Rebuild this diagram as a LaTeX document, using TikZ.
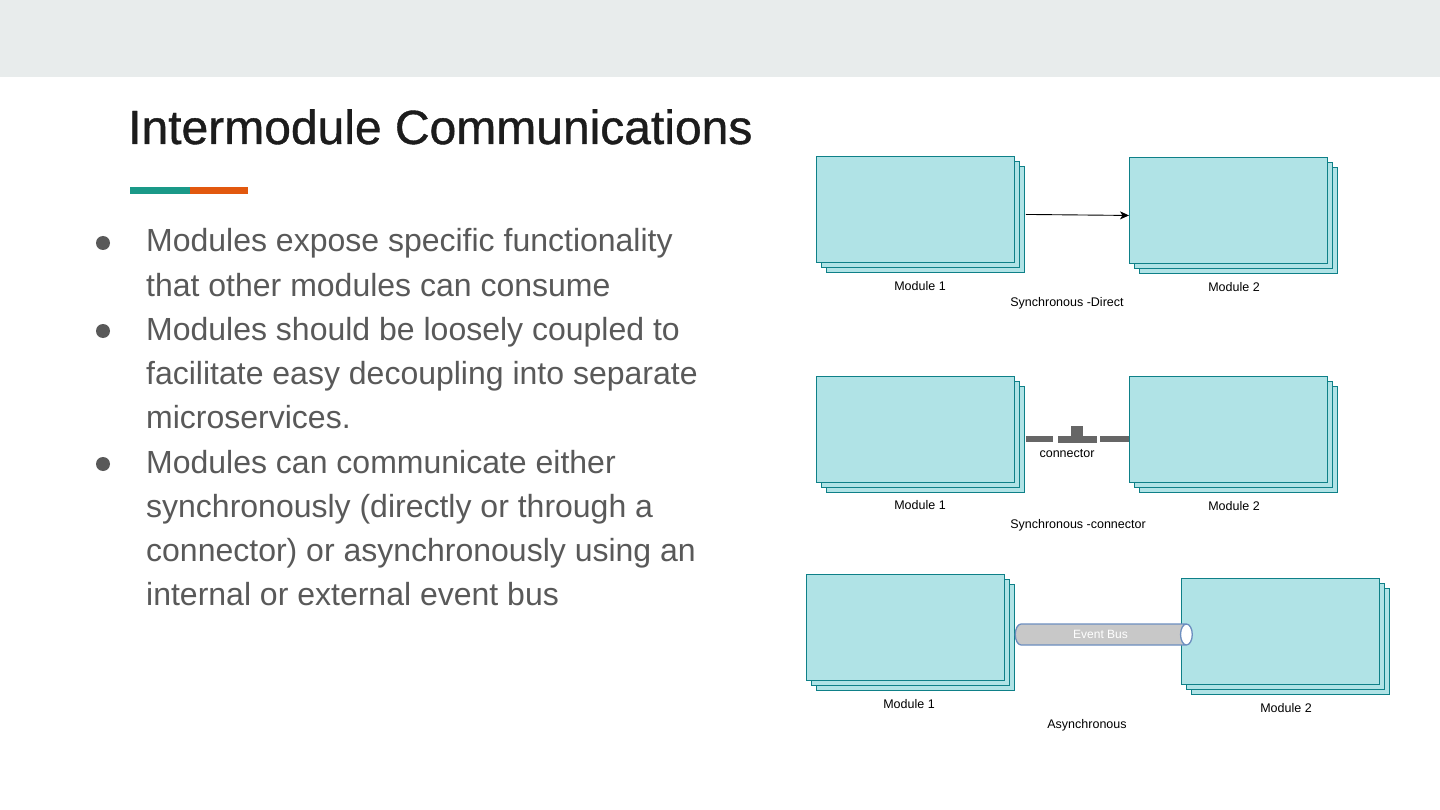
\documentclass[tikz,border=0pt]{standalone}
\usepackage{fontspec}
\setmainfont{Liberation Sans}
\newfontfamily\titlefont[FakeBold=0.8]{Liberation Sans}
\usepackage{tikz}
\usetikzlibrary{arrows.meta,shadows,shapes.geometric}
\definecolor{band}{HTML}{E8ECEC}
\definecolor{titlec}{HTML}{1C1C1C}
\definecolor{textc}{HTML}{595959}
\definecolor{teal}{HTML}{1A9988}
\definecolor{orange}{HTML}{E2580E}
\definecolor{modfill}{HTML}{B0E3E6}
\definecolor{modline}{HTML}{0E8088}
\definecolor{busfill}{HTML}{C8C8C8}
\definecolor{busline}{HTML}{6C8EBF}
\definecolor{connc}{HTML}{666666}

\begin{document}
\begin{tikzpicture}[x=1pt,y=-1pt,
    module/.style={draw=modline, fill=modfill, line width=0.9pt, anchor=north west,
        minimum width=198pt, minimum height=106pt, inner sep=0pt,
        copy shadow={shadow xshift=10pt, shadow yshift=-10pt},
        copy shadow={shadow xshift=5pt, shadow yshift=-5pt}},
    lbl/.style={font=\fontsize{12.5}{14}\selectfont, inner sep=0pt},
    bulletdot/.style={circle, fill=textc, minimum size=14pt, inner sep=0pt},
    bullettext/.style={anchor=base west, align=left, text=textc, inner sep=0pt,
        font=\fontsize{32}{44.2}\selectfont}]
    \useasboundingbox (0,0) rectangle (1440,810);
    \fill[white] (0,0) rectangle (1440,810);
    \fill[band] (0,0) rectangle (1440,77);
    % title
    \node[anchor=base west, inner sep=0pt, text=titlec, font=\titlefont\fontsize{48}{56}\selectfont] (title) at (128,144) {Intermodule Communications};
    \fill[teal] (130,187) rectangle (190,194);
    \fill[orange] (190,187) rectangle (248,194);
    % bullets (anchored at the baseline of their last line)
    \node[bulletdot] (b1) at (103,243) {};
    \node[bullettext] (t1) at (146,296.2) {Modules expose specific functionality\\that other modules can consume};
    \node[bulletdot] (b2) at (103,331) {};
    \node[bullettext] (t2) at (146,428.4) {Modules should be loosely coupled to\\facilitate easy decoupling into separate\\microservices.};
    \node[bulletdot] (b3) at (103,464) {};
    \node[bullettext] (t3) at (146,605.6) {Modules can communicate either\\synchronously (directly or through a\\connector) or asynchronously using an\\internal or external event bus};
    % synchronous - direct
    \node[module] (m1) at (816,156) {};
    \node[module] (m2) at (1129,157) {};
    \draw[-{Stealth[length=9pt,width=8pt,inset=2.5pt]}, line width=0.9pt] ([xshift=11pt,yshift=-5pt]m1.east) -- ([yshift=-5pt]m2.west);
    \node[lbl] (l1) at (920,286) {Module 1};
    \node[lbl] (l2) at (1234,287) {Module 2};
    \node[lbl] (s1) at (1067,303) {Synchronous -Direct};
    % synchronous - connector
    \node[module] (m3) at (816,376) {};
    \node[module] (m4) at (1129,376) {};
    \coordinate (cn) at (1077,439);
    \draw[connc, line width=6pt] ([xshift=11pt]m3.east |- cn) -- ([xshift=-24pt]cn);
    \draw[connc, line width=6pt] ([xshift=23pt]cn) -- (m4.west |- cn);
    \fill[connc] ([xshift=-19pt,yshift=3.5pt]cn) rectangle ([xshift=20pt,yshift=-3.5pt]cn);
    \fill[connc] ([xshift=-6pt,yshift=0pt]cn) rectangle ([xshift=6pt,yshift=13pt]cn);
    \node[lbl] (c1) at (1067,454) {connector};
    \node[lbl] (l3) at (920,505) {Module 1};
    \node[lbl] (l4) at (1234,506) {Module 2};
    \node[lbl] (s2) at (1078,525) {Synchronous -connector};
    % asynchronous
    \node[module] (m5) at (806,574) {};
    \node[module] (m6) at (1181,578) {};
    \node[cylinder, draw=busline, line width=1.3pt, aspect=1.4, minimum height=177pt, minimum width=21pt, inner sep=0pt,
        cylinder uses custom fill, cylinder body fill=busfill, cylinder end fill=white,
        text=white, font=\fontsize{12}{14}\selectfont] (bus) at (1100.5,634.5) {Event Bus};
    \node[lbl] (l5) at (909,704) {Module 1};
    \node[lbl] (l6) at (1286,708) {Module 2};
    \node[lbl] (s3) at (1087,725) {Asynchronous};
\end{tikzpicture}
\end{document}
